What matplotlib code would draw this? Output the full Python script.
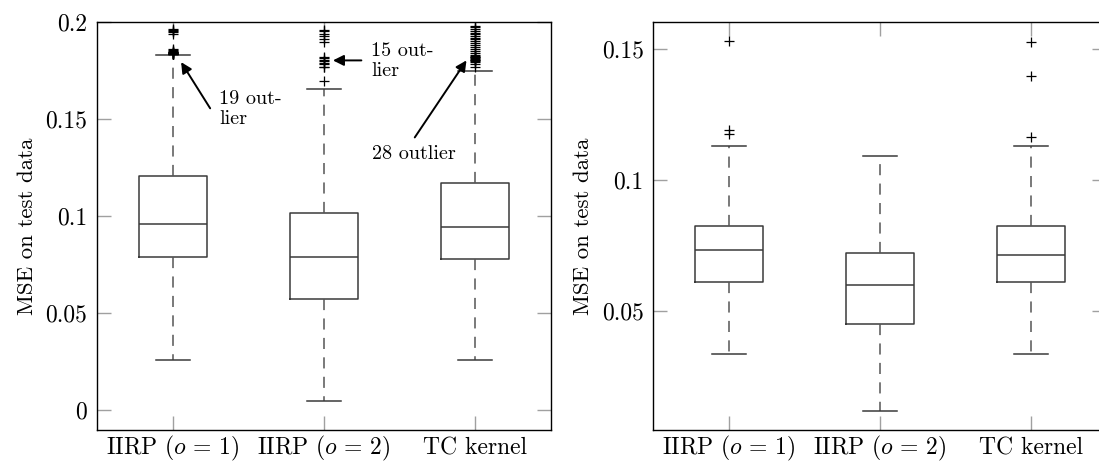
import matplotlib
matplotlib.use("Agg")
import matplotlib.pyplot as plt

plt.rcParams['font.family'] = 'cmr10'
plt.rcParams['mathtext.fontset'] = 'cm'
plt.rcParams['axes.formatter.use_mathtext'] = True
plt.rcParams['lines.scale_dashes'] = False

categories = [r'IIRP $(o\,=\,1)$', r'IIRP $(o\,=\,2)$', 'TC kernel']

# left panel statistics
left_q1 = [0.0791, 0.0574, 0.0779]
left_med = [0.0960, 0.0788, 0.0943]
left_q3 = [0.1207, 0.1017, 0.1169]
left_wlo = [0.0257, 0.0047, 0.0257]
left_whi = [0.1831, 0.1654, 0.1747]
left_fliers = [
    [0.1966, 0.1960, 0.1953, 0.1946, 0.1940, 0.1862, 0.1858, 0.1851, 0.1847,
     0.1845, 0.1843, 0.1841, 0.1840, 0.1838, 0.1837, 0.1836, 0.1835, 0.1834, 0.1833],
    [0.1958, 0.1952, 0.1940, 0.1926, 0.1913, 0.1897, 0.1820, 0.1815, 0.1805,
     0.1800, 0.1787, 0.1783, 0.1770, 0.1766, 0.1695],
    [0.1980, 0.1972, 0.1962, 0.1955, 0.1945, 0.1938, 0.1928, 0.1920, 0.1912,
     0.1900, 0.1890, 0.1880, 0.1870, 0.1860, 0.1850, 0.1840, 0.1830, 0.1826,
     0.1822, 0.1818, 0.1814, 0.1810, 0.1806, 0.1802, 0.1798, 0.1792, 0.1785, 0.1770],
]

# right panel statistics
right_q1 = [0.0612, 0.0452, 0.0611]
right_med = [0.0732, 0.0598, 0.0715]
right_q3 = [0.0824, 0.0723, 0.0823]
right_wlo = [0.0337, 0.0116, 0.0337]
right_whi = [0.1132, 0.1093, 0.1131]
right_fliers = [
    [0.1531, 0.1191, 0.1178],
    [],
    [0.1528, 0.1397, 0.1165],
]

left_yticks = [0, 0.05, 0.1, 0.15, 0.2]
left_yticklabels = ['0', '0.05', '0.1', '0.15', '0.2']
right_yticks = [0.05, 0.1, 0.15]
right_yticklabels = ['0.05', '0.1', '0.15']

annotations = [
    ('19 out-\nlier', (1.056, 0.1793), (1.248, 0.1555), (1.309, 0.1552)),
    ('15 out-\nlier', (2.060, 0.1802), (2.248, 0.1802), (2.314, 0.1801)),
    ('28 outlier', (2.943, 0.1802), (2.601, 0.1405), (2.320, 0.1319)),
]

BOX_C = '#3a3a3a'
WH_C = '#555555'
TICK_C = '#a0a0a0'


def make_stats(q1, med, q3, wlo, whi, fliers):
    out = []
    for i in range(len(q1)):
        out.append(dict(q1=q1[i], med=med[i], q3=q3[i], whislo=wlo[i],
                        whishi=whi[i], fliers=fliers[i]))
    return out


def draw(ax, stats, ylim, yticks, yticklabels):
    ax.bxp(stats, positions=[1, 2, 3], widths=0.45, showfliers=True,
           boxprops=dict(color=BOX_C, linewidth=1.1),
           medianprops=dict(color=BOX_C, linewidth=1.1),
           whiskerprops=dict(color=WH_C, linewidth=1.1, linestyle=(0, (8, 6))),
           capprops=dict(color=BOX_C, linewidth=1.1),
           capwidths=0.225,
           flierprops=dict(marker='+', markersize=7, markeredgecolor='black',
                           markeredgewidth=0.9, linestyle='none'))
    ax.set_xlim(0.5, 3.5)
    ax.set_ylim(*ylim)
    ax.set_xticks([1, 2, 3])
    ax.set_xticklabels(categories, fontsize=17)
    for lab in ax.get_xticklabels():
        lab.set_verticalalignment('baseline')
    ax.set_yticks(yticks)
    ax.set_yticklabels(yticklabels, fontsize=17)
    ax.tick_params(direction='in', length=10, width=1.0, color=TICK_C,
                   top=True, right=True)
    ax.tick_params(axis='x', pad=17.5)
    ax.tick_params(axis='y', pad=7)
    ax.set_ylabel('MSE on test data', fontsize=16.5, labelpad=6)
    for s in ax.spines.values():
        s.set_linewidth(1.0)
        s.set_color('black')


fig = plt.figure(figsize=(10.99, 4.63), dpi=100)
ax1 = fig.add_axes([0.0883, 0.0713, 0.4128, 0.8812])
ax2 = fig.add_axes([0.5945, 0.0713, 0.4119, 0.8812])

draw(ax1, make_stats(left_q1, left_med, left_q3, left_wlo, left_whi, left_fliers),
     (-0.0103, 0.2), left_yticks, left_yticklabels)
draw(ax2, make_stats(right_q1, right_med, right_q3, right_wlo, right_whi, right_fliers),
     (0.00453, 0.16043), right_yticks, right_yticklabels)

for text, tip, tail, tpos in annotations:
    ax1.annotate('', xy=tip, xytext=tail,
                 arrowprops=dict(arrowstyle='-|>', lw=1.4, color='black',
                                 mutation_scale=16, shrinkA=0, shrinkB=0))
    ax1.text(tpos[0], tpos[1], text, fontsize=14.5, ha='left', va='center',
             linespacing=1.15)

fig.savefig('out.png', dpi=100)
